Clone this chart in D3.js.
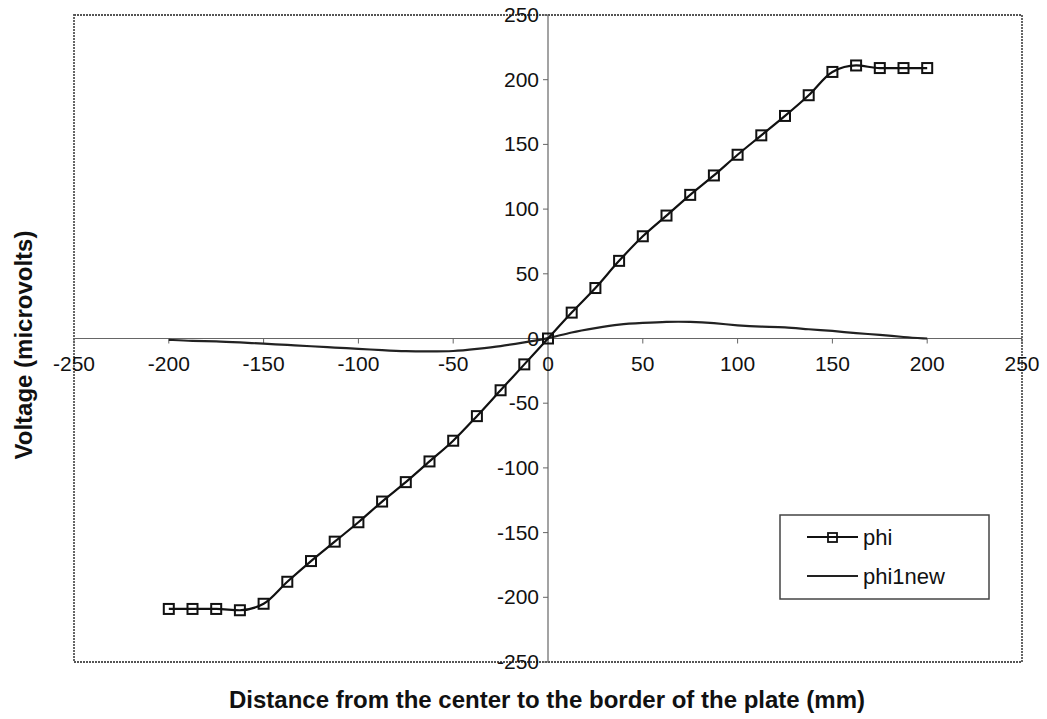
<!DOCTYPE html>
<html>
<head>
<meta charset="utf-8">
<script src="https://cdn.jsdelivr.net/npm/d3@7"></script>
<style>
body{margin:0;background:#fff;}
text{font-family:"Liberation Sans",Arial,sans-serif;}
</style>
</head>
<body>
<script>
// distance from centre (mm)
var xs = [-200,-187.5,-175,-162.5,-150,-137.5,-125,-112.5,-100,-87.5,-75,-62.5,-50,-37.5,-25,-12.5,
          0,12.5,25,37.5,50,62.5,75,87.5,100,112.5,125,137.5,150,162.5,175,187.5,200];
var phi = [-209,-209,-209,-210,-205,-188,-172,-157,-142,-126,-111,-95,-79,-60,-40,-20,
           0,20,39,60,79,95,111,126,142,157,172,188,206,211,209,209,209];
var phi1new = [-1,-2,-2,-3,-4,-5,-6,-7,-8,-9,-10,-10,-10,-8,-6,-3,
               0,5,8,11,12,13,13,12,10,9,9,7,6,4,3,1,0];
var xTicks = [-250,-200,-150,-100,-50,0,50,100,150,200,250];
var yTicks = [-250,-200,-150,-100,-50,0,50,100,150,200,250];

var W = 1047, H = 719;
var svg = d3.select("body").append("svg").attr("width", W).attr("height", H);

var x = d3.scaleLinear().domain([-250,250]).range([74,1022]);
var y = d3.scaleLinear().domain([-250,250]).range([662,15]);

// plot frame
svg.append("rect")
	.attr("x", x(-250)).attr("y", y(250))
	.attr("width", x(250)-x(-250)).attr("height", y(-250)-y(250))
	.attr("fill","none").attr("stroke","#555").attr("stroke-width",1.8)
	.attr("stroke-dasharray","2,1");

// axis lines crossing at zero
svg.append("line").attr("x1",x(-250)).attr("x2",x(250)).attr("y1",y(0)).attr("y2",y(0))
	.attr("stroke","#666").attr("stroke-width",1.2);
svg.append("line").attr("x1",x(0)).attr("x2",x(0)).attr("y1",y(250)).attr("y2",y(-250))
	.attr("stroke","#666").attr("stroke-width",1.2);

// x ticks + labels
svg.selectAll(".xt").data(xTicks).enter().append("line")
	.attr("x1",function(d){return x(d);}).attr("x2",function(d){return x(d);})
	.attr("y1",y(0)).attr("y2",y(0)+5).attr("stroke","#666");
svg.selectAll(".xl").data(xTicks).enter().append("text")
	.attr("x",function(d){return x(d);}).attr("y",y(0)+32)
	.attr("text-anchor","middle").attr("font-size",21).attr("fill","#111")
	.text(function(d){return d;});

// y ticks + labels
svg.selectAll(".yt").data(yTicks).enter().append("line")
	.attr("x1",x(0)-5).attr("x2",x(0))
	.attr("y1",function(d){return y(d);}).attr("y2",function(d){return y(d);})
	.attr("stroke","#666");
svg.selectAll(".yl").data(yTicks).enter().append("text")
	.attr("x",x(0)-9).attr("y",function(d){return y(d)+7;})
	.attr("text-anchor","end").attr("font-size",21).attr("fill","#111")
	.text(function(d){return d;});

// phi1new smooth line
var line = d3.line().x(function(d,i){return x(xs[i]);}).y(function(d){return y(d);});
svg.append("path").datum(phi1new)
	.attr("d", line.curve(d3.curveBasis))
	.attr("fill","none").attr("stroke","#222").attr("stroke-width",2.2);

// phi line with square markers
svg.append("path").datum(phi)
	.attr("d", d3.line().x(function(d,i){return x(xs[i]);}).y(function(d){return y(d);}).curve(d3.curveMonotoneX))
	.attr("fill","none").attr("stroke","#111").attr("stroke-width",2.2);
svg.selectAll(".mk").data(phi).enter().append("rect")
	.attr("x",function(d,i){return x(xs[i])-5;}).attr("y",function(d){return y(d)-5;})
	.attr("width",10).attr("height",10)
	.attr("fill","none").attr("stroke","#111").attr("stroke-width",2);

// legend
var lg = svg.append("g");
lg.append("rect").attr("x",780).attr("y",515).attr("width",209).attr("height",84)
	.attr("fill","#fff").attr("stroke","#444").attr("stroke-width",1.5);
lg.append("line").attr("x1",807).attr("x2",858).attr("y1",537).attr("y2",537)
	.attr("stroke","#111").attr("stroke-width",2.2);
lg.append("rect").attr("x",828).attr("y",533).attr("width",9).attr("height",9)
	.attr("fill","none").attr("stroke","#111").attr("stroke-width",1.8);
lg.append("text").attr("x",863).attr("y",545).attr("font-size",22).attr("fill","#111").text("phi");
lg.append("line").attr("x1",807).attr("x2",858).attr("y1",576).attr("y2",576)
	.attr("stroke","#222").attr("stroke-width",2);
lg.append("text").attr("x",863).attr("y",584).attr("font-size",22).attr("fill","#111").text("phi1new");

// axis titles
svg.append("text").attr("x",547).attr("y",708).attr("text-anchor","middle")
	.attr("font-size",24).attr("font-weight","bold").attr("fill","#111")
	.text("Distance from the center to the border of the plate (mm)");
svg.append("text").attr("transform","translate(32,345) rotate(-90)")
	.attr("text-anchor","middle").attr("font-size",24).attr("font-weight","bold").attr("fill","#111")
	.text("Voltage (microvolts)");
</script>
</body>
</html>
